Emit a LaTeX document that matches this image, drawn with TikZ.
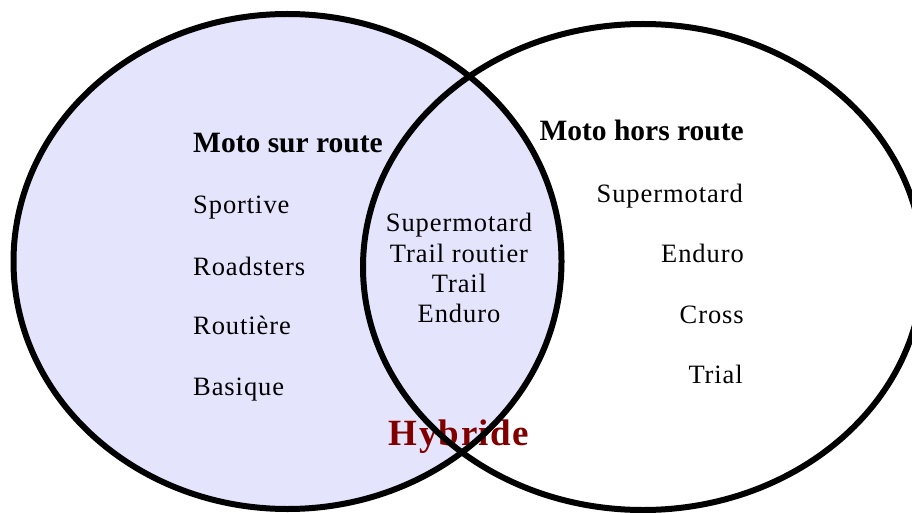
\documentclass[tikz,border=0pt]{standalone}
\usepackage{fontspec}
\setmainfont{Liberation Serif}
\newfontfamily\spacedfont[LetterSpace=3.5]{Liberation Serif}
\newfontfamily\hybfont[LetterSpace=4]{Liberation Serif}
\definecolor{lav}{RGB}{228,228,252}
\definecolor{hybred}{RGB}{128,0,0}
\begin{document}
\begin{tikzpicture}[x=1pt,y=-1pt,
  item/.style={font=\spacedfont\fontsize{26.5}{30}\selectfont, inner sep=0pt},
  head/.style={font=\bfseries\fontsize{29.5}{34}\selectfont, inner sep=0pt},
  hyb/.style={font=\hybfont\bfseries\fontsize{37}{42}\selectfont, text=hybred, inner sep=0pt},
  outline/.style={draw=black, line width=6pt}]
\useasboundingbox (0,0) rectangle (912,513);
% fill of the left set
\fill[lav] (287.5,261.5) ellipse [x radius=274pt, y radius=247.5pt];
% left column
\node[head, anchor=base west] (lh) at (193,152.7) {Moto sur route};
\node[item, anchor=base west] (l1) at (193,213.3) {Sportive};
\node[item, anchor=base west] (l2) at (193,275.3) {Roadsters};
\node[item, anchor=base west] (l3) at (193,334.3) {Routière};
\node[item, anchor=base west] (l4) at (193,395.3) {Basique};
% right column
\node[head, anchor=base east] (rh) at (744,140.7) {Moto hors route};
\node[item, anchor=base east] (r1) at (743,202.3) {Supermotard};
\node[item, anchor=base east] (r2) at (744,262.7) {Enduro};
\node[item, anchor=base east] (r3) at (744,323.3) {Cross};
\node[item, anchor=base east] (r4) at (743,383.3) {Trial};
% middle
\node[item, anchor=base] (m1) at (459,231.7) {Supermotard};
\node[item, anchor=base] (m2) at (459,262.7) {Trail routier};
\node[item, anchor=base] (m3) at (459,292) {Trail};
\node[item, anchor=base] (m4) at (459,322) {Enduro};
\node[hyb, anchor=base] (hy) at (459,445) {Hybride};
% outlines
\draw[outline] (287.5,261.5) ellipse [x radius=274pt, y radius=247.5pt];
\draw[outline] (643,267) ellipse [x radius=280pt, y radius=243pt];
\end{tikzpicture}
\end{document}
